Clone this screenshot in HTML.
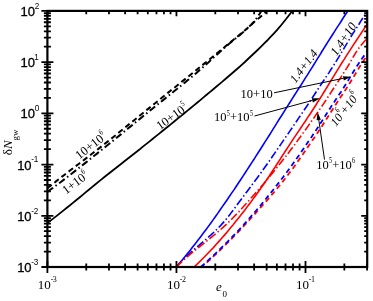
<!DOCTYPE html>
<html><head><meta charset="utf-8"><title>chart</title>
<style>html,body{margin:0;padding:0;background:#fff}body{width:373px;height:301px;overflow:hidden;position:relative}</style>
</head><body>
<svg width="373" height="301" viewBox="0 0 373 301" style="position:absolute;left:0;top:0;will-change:transform">
<defs><clipPath id="c"><rect x="47.4" y="10.9" width="319.8" height="256.1"/></clipPath></defs>
<rect width="373" height="301" fill="#fff"/>
<g clip-path="url(#c)" fill="none" stroke-linecap="butt">
<path d="M47.4,223.1 L50.6,220.6 L53.8,218.1 L57.0,215.6 L60.1,213.1 L63.3,210.6 L66.5,208.0 L69.7,205.5 L72.9,202.9 L76.1,200.3 L79.2,197.7 L82.4,195.1 L85.6,192.4 L88.8,189.8 L92.0,187.1 L95.2,184.5 L98.4,181.9 L101.5,179.4 L104.7,176.8 L107.9,174.3 L111.1,171.7 L114.3,169.2 L117.5,166.7 L120.7,164.2 L123.8,161.7 L127.0,159.2 L130.2,156.7 L133.4,154.2 L136.6,151.7 L139.8,149.2 L142.9,146.6 L146.1,144.1 L149.3,141.6 L152.5,139.0 L155.7,136.4 L158.9,133.9 L162.1,131.3 L165.2,128.8 L168.4,126.2 L171.6,123.6 L174.8,121.0 L178.0,118.4 L181.2,115.9 L184.3,113.3 L187.5,110.6 L190.7,108.0 L193.9,105.4 L197.1,102.7 L200.3,100.1 L203.5,97.4 L206.6,94.8 L209.8,92.1 L213.0,89.5 L216.2,86.8 L219.4,84.1 L222.6,81.4 L225.7,78.7 L228.9,76.0 L232.1,73.3 L235.3,70.5 L238.5,67.7 L241.7,64.8 L244.9,62.0 L248.0,59.0 L251.2,56.0 L254.4,53.0 L257.6,50.0 L260.8,46.9 L264.0,43.7 L267.2,40.5 L270.3,37.2 L273.5,33.8 L276.7,30.3 L279.9,26.7 L283.1,22.8 L286.3,18.8 L289.4,14.7 L292.6,10.5 L295.8,6.3 L299.0,2.0" stroke="#000" stroke-width="1.8"/>
<path d="M47.4,188.3 L50.3,186.0 L53.1,183.7 L56.0,181.4 L58.9,179.1 L61.7,176.9 L64.6,174.7 L67.5,172.5 L70.3,170.3 L73.2,168.1 L76.1,165.9 L79.0,163.7 L81.8,161.6 L84.7,159.4 L87.6,157.2 L90.4,155.0 L93.3,152.8 L96.2,150.6 L99.0,148.4 L101.9,146.1 L104.8,143.8 L107.6,141.6 L110.5,139.3 L113.4,137.0 L116.2,134.7 L119.1,132.3 L122.0,130.0 L124.8,127.7 L127.7,125.4 L130.6,123.0 L133.5,120.7 L136.3,118.4 L139.2,116.0 L142.1,113.7 L144.9,111.4 L147.8,109.1 L150.7,106.8 L153.5,104.5 L156.4,102.2 L159.3,99.9 L162.1,97.5 L165.0,95.2 L167.9,92.9 L170.7,90.6 L173.6,88.3 L176.5,86.0 L179.3,83.7 L182.2,81.4 L185.1,79.1 L187.9,76.8 L190.8,74.5 L193.7,72.2 L196.6,69.9 L199.4,67.6 L202.3,65.2 L205.2,62.9 L208.0,60.6 L210.9,58.3 L213.8,56.0 L216.6,53.6 L219.5,51.3 L222.4,49.0 L225.2,46.6 L228.1,44.2 L231.0,41.8 L233.8,39.5 L236.7,37.1 L239.6,34.7 L242.4,32.4 L245.3,30.0 L248.2,27.5 L251.1,24.9 L253.9,22.2 L256.8,19.8 L259.7,17.5 L262.5,15.1 L265.4,12.6 L268.3,10.0 L271.1,7.5 L274.0,5.0" stroke="#000" stroke-width="2.0" stroke-dasharray="5.5 3.5"/>
<path d="M47.4,191.8 L50.2,189.8 L52.9,187.9 L55.7,185.8 L58.4,183.8 L61.2,181.7 L63.9,179.6 L66.7,177.5 L69.4,175.4 L72.2,173.2 L74.9,171.1 L77.7,168.9 L80.5,166.7 L83.2,164.6 L86.0,162.4 L88.7,160.2 L91.5,158.0 L94.2,155.8 L97.0,153.6 L99.7,151.4 L102.5,149.2 L105.2,147.0 L108.0,144.8 L110.8,142.6 L113.5,140.4 L116.3,138.1 L119.0,135.9 L121.8,133.6 L124.5,131.4 L127.3,129.1 L130.0,126.9 L132.8,124.6 L135.5,122.4 L138.3,120.1 L141.1,117.9 L143.8,115.6 L146.6,113.4 L149.3,111.2 L152.1,108.9 L154.8,106.7 L157.6,104.5 L160.3,102.3 L163.1,100.1 L165.8,97.9 L168.6,95.7 L171.3,93.5 L174.1,91.3 L176.9,89.1 L179.6,86.8 L182.4,84.6 L185.1,82.4 L187.9,80.1 L190.6,77.8 L193.4,75.5 L196.1,73.2 L198.9,70.8 L201.6,68.5 L204.4,66.0 L207.2,63.6 L209.9,61.0 L212.7,58.5 L215.4,56.0 L218.2,53.5 L220.9,51.0 L223.7,48.5 L226.4,46.1 L229.2,43.7 L231.9,41.5 L234.7,39.2 L237.5,36.9 L240.2,34.7 L243.0,32.3 L245.7,29.9 L248.5,27.3 L251.2,24.6 L254.0,21.6 L256.7,18.1 L259.5,14.0 L262.2,9.5 L265.0,5.0" stroke="#000" stroke-width="2.0" stroke-dasharray="7 3 1.5 3"/>
<path d="M176.4,267.0 L179.2,263.6 L182.0,260.3 L184.7,256.9 L187.5,253.5 L190.2,250.2 L192.8,246.8 L195.5,243.4 L198.1,240.1 L200.7,236.7 L203.2,233.3 L205.7,230.0 L208.2,226.6 L210.7,223.2 L213.1,219.9 L215.5,216.5 L217.9,213.1 L220.2,209.8 L222.5,206.4 L224.9,203.0 L227.2,199.7 L229.5,196.3 L231.8,192.9 L234.1,189.6 L236.3,186.2 L238.6,182.8 L240.8,179.5 L243.0,176.1 L245.2,172.7 L247.4,169.4 L249.6,166.0 L251.8,162.6 L254.0,159.3 L256.1,155.9 L258.3,152.5 L260.4,149.2 L262.6,145.8 L264.7,142.4 L266.8,139.1 L269.0,135.7 L271.1,132.3 L273.2,128.9 L275.3,125.6 L277.4,122.2 L279.5,118.8 L281.7,115.5 L283.8,112.1 L285.9,108.7 L288.0,105.4 L290.2,102.0 L292.3,98.6 L294.4,95.3 L296.6,91.9 L298.7,88.5 L300.9,85.2 L303.0,81.8 L305.1,78.4 L307.3,75.1 L309.4,71.7 L311.5,68.3 L313.6,65.0 L315.7,61.6 L317.8,58.2 L319.9,54.9 L321.9,51.5 L324.0,48.1 L326.1,44.8 L328.2,41.4 L330.4,38.0 L332.5,34.7 L334.6,31.3 L336.8,27.9 L339.0,24.6 L341.2,21.2 L343.3,17.8 L345.5,14.5 L347.7,11.1 L349.9,7.7 L352.1,4.4 L354.3,1.0" stroke="#0000ff" stroke-width="1.6"/>
<path d="M194.0,267.0 L197.4,263.8 L200.8,260.5 L204.1,257.3 L207.2,254.0 L210.3,250.8 L213.4,247.6 L216.3,244.3 L219.2,241.1 L222.1,237.8 L224.9,234.6 L227.6,231.4 L230.3,228.1 L233.0,224.9 L235.6,221.6 L238.2,218.4 L240.7,215.2 L243.3,211.9 L245.8,208.7 L248.2,205.4 L250.7,202.2 L253.1,198.9 L255.5,195.7 L257.8,192.5 L260.1,189.2 L262.4,186.0 L264.7,182.7 L266.9,179.5 L269.1,176.3 L271.2,173.0 L273.3,169.8 L275.5,166.5 L277.5,163.3 L279.6,160.1 L281.7,156.8 L283.8,153.6 L285.9,150.3 L288.0,147.1 L290.1,143.9 L292.2,140.6 L294.4,137.4 L296.6,134.1 L298.8,130.9 L300.9,127.7 L303.1,124.4 L305.3,121.2 L307.4,117.9 L309.6,114.7 L311.7,111.5 L313.8,108.2 L315.9,105.0 L317.9,101.7 L320.0,98.5 L322.0,95.3 L324.0,92.0 L326.0,88.8 L328.0,85.5 L329.9,82.3 L331.9,79.1 L333.9,75.8 L335.9,72.6 L337.9,69.3 L339.9,66.1 L341.9,62.8 L344.0,59.6 L346.0,56.4 L348.1,53.1 L350.2,49.9 L352.3,46.6 L354.4,43.4 L356.5,40.2 L358.7,36.9 L360.8,33.7 L363.0,30.4 L365.1,27.2 L367.3,24.0 L369.5,20.7 L371.6,17.5 L373.8,14.2 L376.0,11.0" stroke="#ff0000" stroke-width="1.6"/>
<path d="M176.4,267.0 L179.1,263.8 L182.1,260.5 L185.3,257.3 L188.8,254.0 L192.5,250.8 L196.3,247.6 L200.1,244.3 L203.9,241.1 L207.6,237.8 L211.3,234.6 L214.8,231.4 L218.1,228.1 L221.2,224.9 L224.1,221.6 L226.8,218.4 L229.4,215.2 L231.8,211.9 L234.3,208.7 L236.6,205.4 L239.0,202.2 L241.5,198.9 L243.9,195.7 L246.3,192.5 L248.8,189.2 L251.2,186.0 L253.6,182.7 L256.0,179.5 L258.4,176.3 L260.8,173.0 L263.1,169.8 L265.4,166.5 L267.7,163.3 L270.0,160.1 L272.2,156.8 L274.4,153.6 L276.7,150.3 L278.9,147.1 L281.1,143.9 L283.3,140.6 L285.5,137.4 L287.8,134.1 L290.0,130.9 L292.2,127.7 L294.4,124.4 L296.6,121.2 L298.8,117.9 L301.0,114.7 L303.2,111.5 L305.4,108.2 L307.6,105.0 L309.7,101.7 L311.8,98.5 L314.0,95.3 L316.1,92.0 L318.2,88.8 L320.4,85.5 L322.5,82.3 L324.7,79.1 L326.8,75.8 L329.0,72.6 L331.1,69.3 L333.2,66.1 L335.2,62.8 L337.2,59.6 L339.2,56.4 L341.1,53.1 L343.1,49.9 L345.0,46.6 L347.0,43.4 L348.9,40.2 L350.9,36.9 L352.9,33.7 L355.0,30.4 L357.0,27.2 L359.1,24.0 L361.1,20.7 L363.2,17.5 L365.3,14.2 L367.4,11.0" stroke="#0000ff" stroke-width="1.6" stroke-dasharray="8 2.5 1.5 2.5"/>
<path d="M176.4,267.0 L179.5,263.9 L182.7,260.9 L186.2,257.8 L189.7,254.7 L193.4,251.7 L197.2,248.6 L201.0,245.6 L204.9,242.5 L208.7,239.4 L212.5,236.4 L216.2,233.3 L219.8,230.2 L223.3,227.2 L226.6,224.1 L229.8,221.1 L232.8,218.0 L235.8,214.9 L238.7,211.9 L241.5,208.8 L244.2,205.7 L247.0,202.7 L249.7,199.6 L252.5,196.5 L255.2,193.5 L257.9,190.4 L260.5,187.4 L263.2,184.3 L265.8,181.2 L268.3,178.2 L270.9,175.1 L273.4,172.0 L275.8,169.0 L278.3,165.9 L280.7,162.8 L283.1,159.8 L285.5,156.7 L287.8,153.7 L290.2,150.6 L292.5,147.5 L294.8,144.5 L297.0,141.4 L299.3,138.3 L301.5,135.3 L303.7,132.2 L305.9,129.2 L308.1,126.1 L310.3,123.0 L312.4,120.0 L314.6,116.9 L316.7,113.8 L318.8,110.8 L320.9,107.7 L323.0,104.6 L325.0,101.6 L327.0,98.5 L329.0,95.5 L331.0,92.4 L333.0,89.3 L335.0,86.3 L337.0,83.2 L339.0,80.1 L341.0,77.1 L343.0,74.0 L345.0,70.9 L346.9,67.9 L348.7,64.8 L350.5,61.8 L352.2,58.7 L354.0,55.6 L355.8,52.6 L357.9,49.5 L360.1,46.4 L362.6,43.4 L365.4,40.3 L368.2,37.3 L370.8,34.2 L372.9,31.1 L374.2,28.1 L374.5,25.0" stroke="#ff0000" stroke-width="1.6" stroke-dasharray="8 2.5 1.5 2.5"/>
<path d="M201.8,267.0 L205.0,264.2 L208.1,261.4 L211.2,258.5 L214.2,255.7 L217.2,252.9 L220.1,250.1 L223.0,247.2 L225.9,244.4 L228.7,241.6 L231.5,238.8 L234.3,235.9 L237.0,233.1 L239.7,230.3 L242.4,227.5 L245.0,224.7 L247.6,221.8 L250.2,219.0 L252.8,216.2 L255.4,213.4 L257.9,210.5 L260.4,207.7 L262.9,204.9 L265.4,202.1 L267.9,199.3 L270.3,196.4 L272.8,193.6 L275.2,190.8 L277.5,188.0 L279.9,185.1 L282.2,182.3 L284.4,179.5 L286.6,176.7 L288.7,173.8 L290.9,171.0 L293.0,168.2 L295.0,165.4 L297.0,162.6 L299.0,159.7 L301.0,156.9 L303.0,154.1 L304.9,151.3 L306.9,148.4 L308.8,145.6 L310.7,142.8 L312.6,140.0 L314.6,137.2 L316.5,134.3 L318.4,131.5 L320.2,128.7 L322.1,125.9 L323.9,123.0 L325.7,120.2 L327.5,117.4 L329.3,114.6 L331.1,111.7 L332.9,108.9 L334.7,106.1 L336.6,103.3 L338.4,100.5 L340.3,97.6 L342.2,94.8 L344.0,92.0 L345.9,89.2 L347.7,86.3 L349.5,83.5 L351.2,80.7 L352.9,77.9 L354.6,75.1 L356.4,72.2 L358.1,69.4 L359.8,66.6 L361.7,63.8 L363.5,60.9 L365.4,58.1 L367.3,55.3 L369.2,52.5 L370.9,49.6 L372.6,46.8 L374.0,44.0" stroke="#ff0000" stroke-width="1.8" stroke-dasharray="5 3.5" stroke-dashoffset="2"/>
<path d="M200.8,267.0 L204.0,264.2 L207.1,261.4 L210.2,258.5 L213.2,255.7 L216.2,252.9 L219.1,250.1 L222.0,247.2 L224.9,244.4 L227.7,241.6 L230.5,238.8 L233.2,235.9 L235.9,233.1 L238.6,230.3 L241.2,227.5 L243.8,224.7 L246.3,221.8 L248.8,219.0 L251.3,216.2 L253.8,213.4 L256.2,210.5 L258.6,207.7 L261.0,204.9 L263.3,202.1 L265.6,199.3 L267.9,196.4 L270.2,193.6 L272.5,190.8 L274.7,188.0 L276.9,185.1 L279.1,182.3 L281.3,179.5 L283.4,176.7 L285.6,173.8 L287.7,171.0 L289.7,168.2 L291.8,165.4 L293.8,162.6 L295.8,159.7 L297.8,156.9 L299.8,154.1 L301.7,151.3 L303.7,148.4 L305.6,145.6 L307.5,142.8 L309.4,140.0 L311.4,137.2 L313.3,134.3 L315.2,131.5 L317.0,128.7 L318.9,125.9 L320.7,123.0 L322.5,120.2 L324.3,117.4 L326.1,114.6 L327.9,111.7 L329.7,108.9 L331.5,106.1 L333.4,103.3 L335.2,100.5 L337.1,97.6 L339.0,94.8 L340.9,92.0 L342.7,89.2 L344.5,86.3 L346.3,83.5 L348.0,80.7 L349.7,77.9 L351.4,75.1 L353.1,72.2 L354.8,69.4 L356.6,66.6 L358.5,63.8 L360.4,60.9 L362.4,58.1 L364.4,55.3 L366.5,52.5 L368.4,49.6 L370.3,46.8 L372.0,44.0" stroke="#0000ff" stroke-width="1.8" stroke-dasharray="5 3.5"/>
</g>
<rect x="47.4" y="10.9" width="319.8" height="256.1" fill="none" stroke="#000" stroke-width="2.2"/>
<path d="M47.40,261.0 V273.0 M47.40,10.9 V16.3 M86.25,263.5 V270.5 M86.25,10.9 V14.2 M108.97,263.5 V270.5 M108.97,10.9 V14.2 M125.10,263.5 V270.5 M125.10,10.9 V14.2 M137.60,263.5 V270.5 M137.60,10.9 V14.2 M147.82,263.5 V270.5 M147.82,10.9 V14.2 M156.46,263.5 V270.5 M156.46,10.9 V14.2 M163.94,263.5 V270.5 M163.94,10.9 V14.2 M170.54,263.5 V270.5 M170.54,10.9 V14.2 M176.45,261.0 V273.0 M176.45,10.9 V16.3 M215.30,263.5 V270.5 M215.30,10.9 V14.2 M238.02,263.5 V270.5 M238.02,10.9 V14.2 M254.15,263.5 V270.5 M254.15,10.9 V14.2 M266.65,263.5 V270.5 M266.65,10.9 V14.2 M276.87,263.5 V270.5 M276.87,10.9 V14.2 M285.51,263.5 V270.5 M285.51,10.9 V14.2 M292.99,263.5 V270.5 M292.99,10.9 V14.2 M299.59,263.5 V270.5 M299.59,10.9 V14.2 M305.50,261.0 V273.0 M305.50,10.9 V16.3 M344.35,263.5 V270.5 M344.35,10.9 V14.2 M367.07,263.5 V270.5 M367.07,10.9 V14.2" stroke="#000" stroke-width="1.8" fill="none"/>
<path d="M41.4,267.00 H53.4 M361.2,267.00 H367.2 M43.9,251.58 H50.9 M364.2,251.58 H367.2 M43.9,242.56 H50.9 M364.2,242.56 H367.2 M43.9,236.16 H50.9 M364.2,236.16 H367.2 M43.9,231.20 H50.9 M364.2,231.20 H367.2 M43.9,227.14 H50.9 M364.2,227.14 H367.2 M43.9,223.71 H50.9 M364.2,223.71 H367.2 M43.9,220.74 H50.9 M364.2,220.74 H367.2 M43.9,218.12 H50.9 M364.2,218.12 H367.2 M41.4,215.78 H53.4 M361.2,215.78 H367.2 M43.9,200.36 H50.9 M364.2,200.36 H367.2 M43.9,191.34 H50.9 M364.2,191.34 H367.2 M43.9,184.94 H50.9 M364.2,184.94 H367.2 M43.9,179.98 H50.9 M364.2,179.98 H367.2 M43.9,175.92 H50.9 M364.2,175.92 H367.2 M43.9,172.49 H50.9 M364.2,172.49 H367.2 M43.9,169.52 H50.9 M364.2,169.52 H367.2 M43.9,166.90 H50.9 M364.2,166.90 H367.2 M41.4,164.56 H53.4 M361.2,164.56 H367.2 M43.9,149.14 H50.9 M364.2,149.14 H367.2 M43.9,140.12 H50.9 M364.2,140.12 H367.2 M43.9,133.72 H50.9 M364.2,133.72 H367.2 M43.9,128.76 H50.9 M364.2,128.76 H367.2 M43.9,124.70 H50.9 M364.2,124.70 H367.2 M43.9,121.27 H50.9 M364.2,121.27 H367.2 M43.9,118.30 H50.9 M364.2,118.30 H367.2 M43.9,115.68 H50.9 M364.2,115.68 H367.2 M41.4,113.34 H53.4 M361.2,113.34 H367.2 M43.9,97.92 H50.9 M364.2,97.92 H367.2 M43.9,88.90 H50.9 M364.2,88.90 H367.2 M43.9,82.50 H50.9 M364.2,82.50 H367.2 M43.9,77.54 H50.9 M364.2,77.54 H367.2 M43.9,73.48 H50.9 M364.2,73.48 H367.2 M43.9,70.05 H50.9 M364.2,70.05 H367.2 M43.9,67.08 H50.9 M364.2,67.08 H367.2 M43.9,64.46 H50.9 M364.2,64.46 H367.2 M41.4,62.12 H53.4 M361.2,62.12 H367.2 M43.9,46.70 H50.9 M364.2,46.70 H367.2 M43.9,37.68 H50.9 M364.2,37.68 H367.2 M43.9,31.28 H50.9 M364.2,31.28 H367.2 M43.9,26.32 H50.9 M364.2,26.32 H367.2 M43.9,22.26 H50.9 M364.2,22.26 H367.2 M43.9,18.83 H50.9 M364.2,18.83 H367.2 M43.9,15.86 H50.9 M364.2,15.86 H367.2 M43.9,13.24 H50.9 M364.2,13.24 H367.2 M41.4,10.90 H53.4 M361.2,10.90 H367.2" stroke="#000" stroke-width="1.8" fill="none"/>
<line x1="274.1" y1="92.8" x2="343.4" y2="78.3" stroke="#000" stroke-width="1"/><polygon points="351.2,76.7 343.8,80.5 342.9,76.2" fill="#000"/>
<line x1="254.5" y1="116" x2="312.4" y2="100.4" stroke="#000" stroke-width="1"/><polygon points="320.1,98.3 312.9,102.5 311.8,98.3" fill="#000"/>
<line x1="324.5" y1="159.6" x2="318.8" y2="120.0" stroke="#000" stroke-width="1"/><polygon points="317.6,112.1 320.9,119.7 316.6,120.3" fill="#000"/>
<text x="31.6" y="272.0" style="font-family:'Liberation Sans',sans-serif;font-size:13px;stroke:#000;stroke-width:0.3px" text-anchor="end">10</text>
<text x="31.3" y="264.8" style="font-family:'Liberation Sans',sans-serif;font-size:8.2px;letter-spacing:-0.3px">-3</text>
<text x="31.6" y="220.8" style="font-family:'Liberation Sans',sans-serif;font-size:13px;stroke:#000;stroke-width:0.3px" text-anchor="end">10</text>
<text x="31.3" y="213.6" style="font-family:'Liberation Sans',sans-serif;font-size:8.2px;letter-spacing:-0.3px">-2</text>
<text x="31.6" y="169.6" style="font-family:'Liberation Sans',sans-serif;font-size:13px;stroke:#000;stroke-width:0.3px" text-anchor="end">10</text>
<text x="31.3" y="162.4" style="font-family:'Liberation Sans',sans-serif;font-size:8.2px;letter-spacing:-0.3px">-1</text>
<text x="35" y="118.3" style="font-family:'Liberation Sans',sans-serif;font-size:13px;stroke:#000;stroke-width:0.3px" text-anchor="end">10</text>
<text x="34.7" y="111.1" style="font-family:'Liberation Sans',sans-serif;font-size:8.2px;letter-spacing:-0.3px">0</text>
<text x="35" y="67.1" style="font-family:'Liberation Sans',sans-serif;font-size:13px;stroke:#000;stroke-width:0.3px" text-anchor="end">10</text>
<text x="34.2" y="59.9" style="font-family:'Liberation Sans',sans-serif;font-size:8.2px;letter-spacing:-0.3px">1</text>
<text x="35" y="15.9" style="font-family:'Liberation Sans',sans-serif;font-size:13px;stroke:#000;stroke-width:0.3px" text-anchor="end">10</text>
<text x="34.7" y="8.7" style="font-family:'Liberation Sans',sans-serif;font-size:8.2px;letter-spacing:-0.3px">2</text>
<text x="37.8" y="289" style="font-family:'Liberation Serif',serif;font-size:13px">10</text>
<text x="50.7" y="282.3" style="font-family:'Liberation Serif',serif;font-size:8px;letter-spacing:-0.5px">-3</text>
<text x="166.9" y="289" style="font-family:'Liberation Serif',serif;font-size:13px">10</text>
<text x="179.8" y="282.3" style="font-family:'Liberation Serif',serif;font-size:8px;letter-spacing:-0.5px">-2</text>
<text x="295.9" y="289" style="font-family:'Liberation Serif',serif;font-size:13px">10</text>
<text x="308.8" y="282.3" style="font-family:'Liberation Serif',serif;font-size:8px;letter-spacing:-0.5px">-1</text>
<g transform="translate(240.6,98.2)"><text x="0.00" y="0" style="font-family:'Liberation Serif',serif;font-size:12.5px">10+10</text></g>
<g transform="translate(214,121.4)"><text x="0.00" y="0" style="font-family:'Liberation Serif',serif;font-size:12.5px">10</text><text transform="translate(12.80,-5.8) scale(0.72,1)" style="font-family:'Liberation Serif',serif;font-size:8.5px">5</text><text x="16.06" y="0" style="font-family:'Liberation Serif',serif;font-size:12.5px">+10</text><text transform="translate(35.91,-5.8) scale(0.72,1)" style="font-family:'Liberation Serif',serif;font-size:8.5px">5</text></g>
<g transform="translate(316.2,168.8)"><text x="0.00" y="0" style="font-family:'Liberation Serif',serif;font-size:12.5px">10</text><text transform="translate(12.80,-5.8) scale(0.72,1)" style="font-family:'Liberation Serif',serif;font-size:8.5px">5</text><text x="16.06" y="0" style="font-family:'Liberation Serif',serif;font-size:12.5px">+10</text><text transform="translate(35.91,-5.8) scale(0.72,1)" style="font-family:'Liberation Serif',serif;font-size:8.5px">6</text></g>
<g transform="translate(295.4,83.8) rotate(-53)"><text x="0.00" y="0" style="font-family:'Liberation Serif',serif;font-size:12px;font-style:italic">1.4+1.4</text></g>
<g transform="translate(336.5,56.4) rotate(-56)"><text x="0.00" y="0" style="font-family:'Liberation Serif',serif;font-size:12.5px;font-style:italic">1.4+10</text></g>
<g transform="translate(336,127) rotate(-52)"><text x="0.00" y="0" style="font-family:'Liberation Serif',serif;font-size:12px;font-style:italic">10</text><text transform="translate(12.70,-7.0) scale(0.72,1)" style="font-family:'Liberation Serif',serif;font-size:8.5px;font-style:italic">6</text><text x="14.96" y="0" style="font-family:'Liberation Serif',serif;font-size:12px;font-style:italic">+10</text><text transform="translate(35.76,-7.0) scale(0.72,1)" style="font-family:'Liberation Serif',serif;font-size:8.5px;font-style:italic">6</text></g>
<g transform="translate(79.3,159.8) rotate(-38)"><text x="0.00" y="0" style="font-family:'Liberation Serif',serif;font-size:12.5px">10+10</text><text transform="translate(32.35,-5.8) scale(0.72,1)" style="font-family:'Liberation Serif',serif;font-size:8.5px">6</text></g>
<g transform="translate(66,194.8) rotate(-37)"><text x="0.00" y="0" style="font-family:'Liberation Serif',serif;font-size:12.5px">1+10</text><text transform="translate(26.10,-5.8) scale(0.72,1)" style="font-family:'Liberation Serif',serif;font-size:8.5px">6</text></g>
<g transform="translate(160,130.3) rotate(-36)"><text x="0.00" y="0" style="font-family:'Liberation Serif',serif;font-size:12.5px">10+10</text><text transform="translate(32.35,-5.8) scale(0.72,1)" style="font-family:'Liberation Serif',serif;font-size:8.5px">5</text></g>
<text x="216" y="291" style="font-family:'Liberation Serif',serif;font-size:13px;font-style:italic">e</text><text x="222.5" y="296.5" style="font-family:'Liberation Serif',serif;font-size:9px">0</text>
<g transform="rotate(-90 12.5 155.2)"><text x="12.5" y="155.2" style="font-family:'Liberation Serif',serif;font-size:13px">δ<tspan font-style="italic">N</tspan></text><text x="27.2" y="160.7" style="font-family:'Liberation Serif',serif;font-size:9px">gw</text></g>
</svg>
</body></html>
